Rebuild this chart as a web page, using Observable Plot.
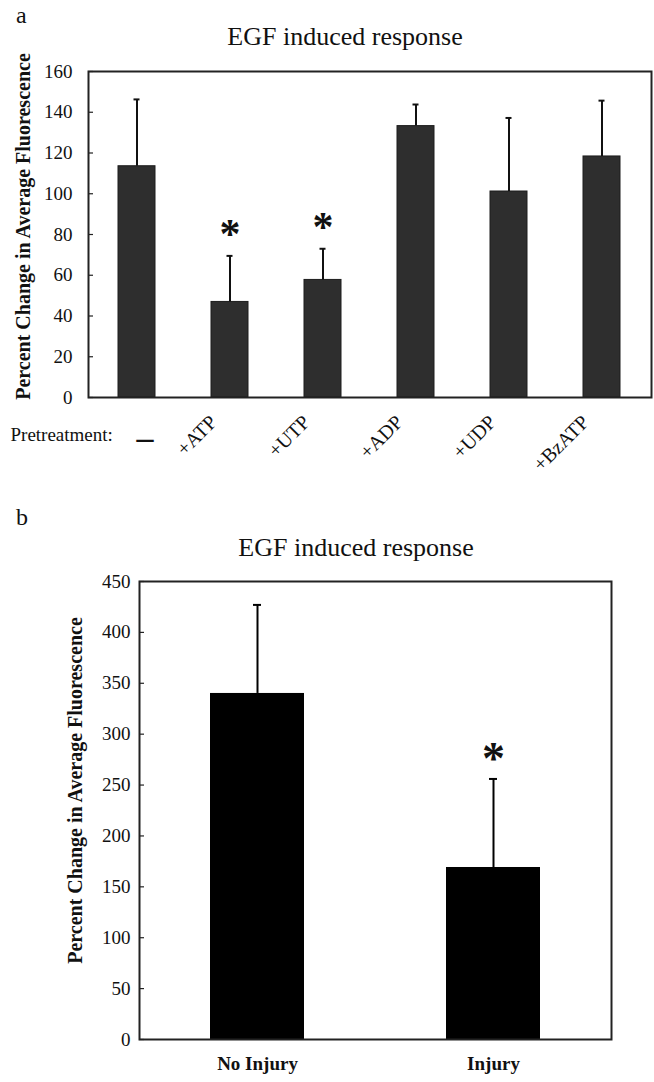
<!DOCTYPE html>
<html>
<head>
<meta charset="utf-8">
<script src="https://cdn.jsdelivr.net/npm/d3@7"></script>
<script src="https://cdn.jsdelivr.net/npm/@observablehq/plot@0.6"></script>
<style>
  body { margin: 0; background: #fff; }
  #root { position: relative; width: 654px; height: 1082px; font-family: "Liberation Serif", "Times New Roman", serif; color: #111; overflow: hidden; }
  .abs { position: absolute; line-height: 1; white-space: nowrap; }
  .ttl { font-size: 26px; transform: translateX(-50%); }
  .pl { font-size: 24px; }
  svg { position: absolute; left: 0; }
</style>
</head>
<body>
<div id="root">
  <div class="abs pl" style="left:16px; top:3px;">a</div>
  <div class="abs ttl" style="left:345px; top:24px;">EGF induced response</div>
  <div class="abs pl" style="left:16px; top:505px;">b</div>
  <div class="abs ttl" style="left:356px; top:535px;">EGF induced response</div>
</div>
<script>
// ---- Panel a data ----
const catsA = ["–", "+ATP", "+UTP", "+ADP", "+UDP", "+BzATP"];
const meanA = [113.5, 46.9, 57.7, 133.2, 101.1, 118.3];
const errA = [32.8, 22.6, 15.3, 10.6, 36.1, 27.4];
const sigA = ["", "*", "*", "", "", ""];
const ticksA = [0, 20, 40, 60, 80, 100, 120, 140, 160];

// ---- Panel b data ----
const catsB = ["No Injury", "Injury"];
const meanB = [340, 169];
const errB = [87, 87];
const sigB = ["", "*"];
const ticksB = [0, 50, 100, 150, 200, 250, 300, 350, 400, 450];

const yLabel = "Percent Change in Average Fluorescence";
const pretreat = "Pretreatment:";

const dataA = catsA.map((c, i) => ({cat: c, mean: meanA[i], top: meanA[i] + errA[i], sig: sigA[i]}));
const dataB = catsB.map((c, i) => ({cat: c, mean: meanB[i], top: meanB[i] + errB[i], sig: sigB[i]}));

const font = "'Liberation Serif', 'Times New Roman', serif";

// Panel a
const wA = 654, hA = 440, mlA = 88, mrA = 3, mtA = 11, mbA = 103;
const plotA = Plot.plot({
  width: wA, height: hA,
  marginLeft: mlA, marginRight: mrA, marginTop: mtA, marginBottom: mbA,
  x: {domain: catsA, paddingInner: 0.6, paddingOuter: 0.3, axis: null},
  y: {domain: [0, 160], axis: null},
  style: {fontFamily: font, fontSize: "19px", overflow: "visible", background: "transparent", color: "#111"},
  marks: [
    Plot.barY(dataA, {x: "cat", y: "mean", fill: "#2e2e2e", stroke: "#1c1c1c", strokeWidth: 1}),
    Plot.ruleX(dataA, {x: "cat", y1: "mean", y2: "top", stroke: "#111", strokeWidth: 2}),
    Plot.tickY(dataA, {x: "cat", y: "top", stroke: "#111", strokeWidth: 2, insetLeft: 15.5, insetRight: 15.5}),
    Plot.text(dataA.filter(d => d.sig), {x: "cat", y: "top", text: "sig", fontSize: 42, fontWeight: "bold", dy: -21, fill: "#111"}),
    Plot.frame({stroke: "#222", strokeWidth: 2}),
    Plot.tickY(ticksA, {y: d => d, insetRight: wA - mlA - mrA - 5, stroke: "#222", strokeWidth: 1.2}),
    Plot.axisY({ticks: ticksA, tickSize: 0, tickPadding: 16, label: null, fontSize: 19}),
    Plot.text([yLabel], {frameAnchor: "left", textAnchor: "middle", text: d => d, rotate: -90, dx: -65, dy: -8, fontSize: 20, fontWeight: "bold", fill: "#111"}),
    Plot.text(dataA.slice(1), {x: "cat", frameAnchor: "bottom", text: "cat", rotate: -45, textAnchor: "end", dx: -12, dy: 26, fontSize: 20, fill: "#111"}),
    Plot.text(dataA.slice(0, 1), {x: "cat", frameAnchor: "bottom", text: "cat", fontSize: 34, fontWeight: "bold", dx: 8, dy: 51, fill: "#111"}),
    Plot.text([pretreat], {frameAnchor: "bottom-left", text: d => d, textAnchor: "start", dx: -78, dy: 43, fontSize: 19, fill: "#111"})
  ]
});
plotA.style.top = "60px";
document.getElementById("root").appendChild(plotA);

// Panel b
const wB = 654, hB = 522, mlB = 139, mrB = 43, mtB = 21, mbB = 43;
const plotB = Plot.plot({
  width: wB, height: hB,
  marginLeft: mlB, marginRight: mrB, marginTop: mtB, marginBottom: mbB,
  x: {domain: catsB, paddingInner: 0.6, paddingOuter: 0.3, axis: null},
  y: {domain: [0, 450], axis: null},
  style: {fontFamily: font, fontSize: "19px", overflow: "visible", background: "transparent", color: "#111"},
  marks: [
    Plot.barY(dataB, {x: "cat", y: "mean", fill: "#000"}),
    Plot.ruleX(dataB, {x: "cat", y1: "mean", y2: "top", stroke: "#000", strokeWidth: 2}),
    Plot.tickY(dataB, {x: "cat", y: "top", stroke: "#000", strokeWidth: 2, insetLeft: 43, insetRight: 43}),
    Plot.text(dataB.filter(d => d.sig), {x: "cat", y: "top", text: "sig", fontSize: 46, fontWeight: "bold", dy: -20, fill: "#111"}),
    Plot.frame({stroke: "#222", strokeWidth: 2}),
    Plot.tickY(ticksB, {y: d => d, insetRight: wB - mlB - mrB - 5, stroke: "#222", strokeWidth: 1.2}),
    Plot.axisY({ticks: ticksB, tickSize: 0, tickPadding: 9, label: null, fontSize: 19}),
    Plot.text([yLabel], {frameAnchor: "left", textAnchor: "middle", text: d => d, rotate: -90, dx: -64, dy: -20, fontSize: 20, fontWeight: "bold", fill: "#111"}),
    Plot.text(dataB, {x: "cat", frameAnchor: "bottom", text: "cat", fontSize: 19, fontWeight: "bold", dy: 30, fill: "#111"})
  ]
});
plotB.style.top = "560px";
document.getElementById("root").appendChild(plotB);
</script>
</body>
</html>
